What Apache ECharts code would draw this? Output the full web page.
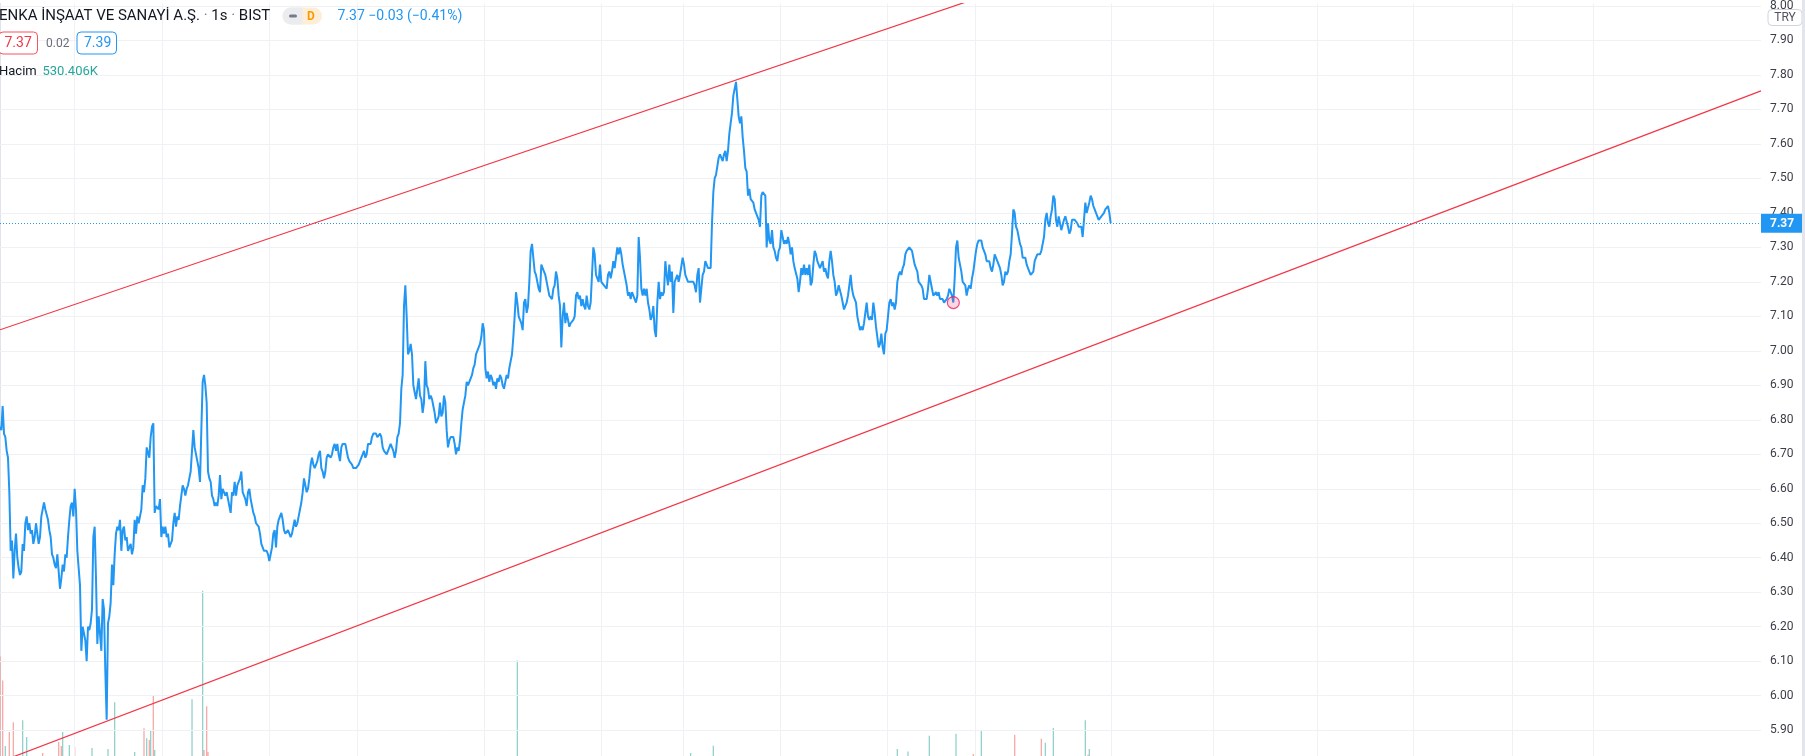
<!DOCTYPE html>
<html><head><meta charset="utf-8">
<script src="https://cdn.jsdelivr.net/npm/echarts@6/dist/echarts.min.js"></script>
<style>html,body{margin:0;padding:0;background:#fff;overflow:hidden}#c{width:1805px;height:756px}</style>
</head><body><div id="c"></div>
<script>
// ---- data (price per bar) ----
const price = [
6.78,6.77,6.84,6.76,6.75,6.71,6.69,6.59,6.42,6.45,
6.34,6.42,6.47,6.40,6.37,6.35,6.36,6.44,6.42,6.50,
6.52,6.48,6.50,6.47,6.48,6.44,6.46,6.50,6.47,6.44,
6.46,6.52,6.52,6.56,6.54,6.54,6.51,6.48,6.46,6.41,
6.40,6.38,6.37,6.41,6.36,6.31,6.34,6.38,6.36,6.41,
6.40,6.46,6.51,6.55,6.56,6.52,6.60,6.54,6.42,6.37,
6.32,6.13,6.20,6.20,6.16,6.10,6.20,6.19,6.21,6.25,
6.46,6.49,6.34,6.15,6.23,6.23,6.13,6.28,6.25,6.07,
5.93,6.21,6.23,6.27,6.38,6.32,6.41,6.47,6.49,6.48,
6.51,6.42,6.48,6.49,6.45,6.46,6.42,6.42,6.44,6.41,
6.43,6.51,6.47,6.52,6.50,6.52,6.54,6.61,6.59,6.63,
6.72,6.72,6.69,6.75,6.78,6.79,6.53,6.55,6.55,6.54,
6.57,6.46,6.49,6.47,6.49,6.46,6.47,6.43,6.43,6.45,
6.50,6.53,6.49,6.52,6.51,6.55,6.58,6.61,6.60,6.58,
6.60,6.61,6.63,6.65,6.71,6.77,6.72,6.72,6.68,6.66,
6.62,6.77,6.91,6.93,6.90,6.85,6.65,6.63,6.62,6.58,
6.57,6.55,6.56,6.55,6.58,6.64,6.57,6.60,6.60,6.58,
6.59,6.57,6.57,6.53,6.59,6.58,6.62,6.58,6.61,6.62,
6.63,
6.65,6.59,6.58,6.57,6.55,6.59,6.60,6.57,6.55,6.53,
6.52,6.50,6.50,6.49,6.47,6.44,6.43,6.42,6.42,6.42,
6.41,6.39,6.41,6.43,6.47,6.48,6.43,6.49,6.51,6.51,
6.53,6.51,6.48,6.47,6.47,6.48,6.47,6.46,6.47,6.49,
6.51,6.49,6.50,6.52,6.54,6.56,6.59,6.63,6.63,6.59,
6.60,6.63,6.67,6.69,6.67,6.66,6.66,6.68,6.70,6.71,
6.66,6.65,6.63,6.65,6.69,6.70,6.70,6.69,6.70,6.72,
6.73,6.71,6.73,6.70,6.68,6.72,6.73,6.73,6.73,6.71,
6.69,6.68,6.68,6.67,6.66,6.66,6.66,6.66,6.67,6.67,
6.69,6.70,6.71,6.69,6.70,6.73,6.73,6.73,6.75,6.76,
6.76,6.76,6.75,6.75,6.76,6.75,6.72,6.71,6.71,6.70,
6.70,6.72,6.73,6.73,6.71,6.69,6.71,6.75,6.76,6.79,
6.89,6.93,7.13,7.19,7.10,6.99,7.00,7.02,6.99,6.90,
6.88,6.86,6.89,6.92,6.87,6.86,6.82,6.85,6.97,6.90,
6.89,6.86,6.87,6.86,6.84,6.82,6.79,6.80,6.81,6.85,
6.81,6.82,6.87,6.85,6.77,6.72,6.74,6.75,6.75,6.75,
6.73,6.70,6.72,6.71,6.74,6.79,6.83,6.85,6.87,6.91,
6.90,6.91,6.92,6.93,6.95,6.96,6.99,7.00,7.01,7.02,
7.04,7.08,7.06,6.95,6.92,6.94,6.91,6.93,6.92,6.90,
6.91,6.89,6.92,6.91,6.93,6.92,6.90,6.89,6.91,6.93,
6.92,6.95,6.97,6.99,7.04,7.10,7.17,7.14,7.10,7.09,
7.08,7.06,7.14,7.15,7.11,7.13,7.20,7.29,7.31,7.27,
7.23,7.22,7.20,7.18,7.17,7.25,7.25,7.23,7.22,7.20,
7.20,7.16,7.16,7.15,7.18,7.19,7.23,7.21,7.16,7.13,
7.01,7.10,7.14,7.08,7.11,7.09,7.07,7.08,7.08,7.09,
7.10,7.16,7.17,7.15,7.16,7.13,7.15,7.13,7.12,7.16,
7.13,7.12,7.14,7.22,7.30,7.28,7.22,7.21,7.20,7.25,
7.20,7.20,7.19,7.19,7.18,7.22,7.23,7.21,7.23,7.26,
7.24,7.27,7.30,7.28,7.30,7.28,7.25,7.23,7.21,7.19,
7.16,7.17,7.15,7.17,7.16,7.16,7.14,7.16,7.33,7.27,
7.18,7.16,7.18,7.16,7.18,7.14,7.12,7.09,7.10,7.13,
7.06,7.04,7.14,7.20,7.15,7.17,7.16,7.17,7.26,7.22,
7.19,7.25,7.20,7.23,7.11,7.20,7.21,7.22,7.20,7.22,
7.22,7.27,7.25,7.22,7.21,7.20,7.20,7.20,7.20,7.20,
7.19,7.17,7.22,7.24,7.14,7.18,7.22,7.23,7.26,7.25,
7.24,7.24,7.24,7.37,7.46,7.50,7.51,7.51,7.56,7.57,
7.57,7.55,7.57,7.58,7.55,7.58,7.63,
7.66,7.69,7.74,7.74,7.78,7.73,7.68,7.66,7.68,7.62,7.58,7.53,7.52,
7.45,7.47,7.44,7.44,7.43,7.41,7.41,7.39,7.38,7.36,
7.45,7.46,7.46,7.45,7.30,7.37,7.32,7.31,7.35,7.30,
7.29,7.27,7.26,7.29,7.30,7.35,7.33,7.31,7.32,7.31,
7.33,7.31,7.28,7.30,7.26,7.24,7.24,7.21,7.17,7.20,
7.24,7.22,7.25,7.22,7.24,7.22,7.25,7.19,7.20,7.25,
7.29,7.28,7.26,7.26,7.24,7.25,7.26,7.23,7.24,7.22,
7.21,7.26,7.29,7.26,7.22,7.20,7.16,7.17,7.19,7.19,
7.16,7.14,7.12,7.13,7.14,7.16,7.19,7.22,7.18,7.16,
7.16,7.14,7.10,7.08,7.06,7.07,7.06,7.08,7.11,7.14,
7.10,7.09,7.10,7.09,7.14,7.11,7.07,7.04,7.01,7.02,
7.05,7.01,6.99,7.05,7.06,7.10,7.14,7.15,7.13,7.14,
7.12,7.14,7.20,7.22,7.23,7.22,7.24,7.25,7.28,7.29,
7.29,7.30,7.30,7.29,7.27,7.25,7.25,7.23,7.20,7.20,
7.19,7.18,7.15,7.15,7.15,7.18,7.22,7.22,7.18,7.16,
7.16,7.17,7.16,7.17,7.15,7.15,7.15,7.14,7.14,7.15,
7.16,7.18,
7.18,7.16,7.14,7.21,7.30,7.32,7.27,7.25,
7.23,7.20,7.20,7.19,7.16,7.18,7.19,7.18,7.21,7.23,
7.26,7.29,7.31,7.32,7.32,7.32,7.30,7.29,7.28,7.26,
7.26,7.26,7.24,7.23,7.25,7.28,7.28,7.26,7.25,7.24,
7.22,7.19,7.20,7.23,7.22,7.23,7.26,7.28,7.34,7.41,
7.40,7.36,7.35,7.33,7.31,7.30,7.27,7.27,7.27,7.25,
7.24,7.23,7.22,7.22,7.23,7.26,7.27,7.28,7.28,7.28,
7.29,7.29,7.33,7.38,7.40,7.37,7.36,7.39,7.41,7.45,
7.44,7.38,7.36,7.39,7.39,7.35,7.35,7.38,7.39,7.39,
7.36,7.34,7.35,7.38,7.38,7.38,7.38,7.37,7.36,7.36,
7.36,7.33,7.38,7.43,7.40,7.40,7.43,7.45,7.44,7.42,
7.41,7.40,7.39,7.38,7.38,7.39,7.39,7.40,7.41,7.41,
7.42,7.40,7.37
];
// volume (millions), sparse: bar index, value, up(1)/down(0)
const volIndex = [0,2,4,7,10,17,20,32,44,46,47,52,56,69,81,86,101,108,110,112,113,115,116,144,152,153,155,156,388,518,535,673,681,697,717,730,736,761,781,784,790,814,816,817];
const volValue = [7.93,6.03,0.79,1.91,2.70,2.85,1.51,0.24,1.11,0.79,1.91,0.87,0.72,0.63,0.56,4.29,0.31,2.22,1.42,1.27,2.05,4.85,0.47,4.53,13.17,0.47,3.97,0.31,7.62,0.24,0.82,0.56,0.35,1.61,1.77,0.16,2.01,1.70,1.37,1.05,2.24,2.85,0.10,0.56];
const volUp = [0,0,1,0,0,1,1,0,0,0,1,1,0,1,1,1,1,0,1,0,1,0,1,1,1,0,0,0,1,1,1,1,1,1,1,0,1,0,0,1,1,1,0,1];
// price-scale tick labels
const yTicks = [5.90,6.00,6.10,6.20,6.30,6.40,6.50,6.60,6.70,6.80,6.90,7.00,7.10,7.20,7.30,7.40,7.50,7.60,7.70,7.80,7.90,8.00];
// time grid positions (bar index)
const timeGrid = [55.5,121.7,202,268,363.2,451.3,512.5,585.5,665.5,731.5,833.5,910,987.75,1059.75,1134,1194.75];
// trend lines drawn on the chart: [bar index, price]
const upperTrend = [[0,7.061],[1320.75,8.794]];
const lowerTrend = [[0,5.808],[1320.75,7.754]];
const markerPoint = [715, 7.14];
const lastPrice = 7.37;
const xMax = 1320.75;
const yMin = 5.825, yMax = 8.007;   // visible price range
const volMax = 60;

const FONT = 'Roboto, "Noto Sans", sans-serif';
const chart = echarts.init(document.getElementById('c'), null, {renderer:'canvas', width:1805, height:756});
const UP = 'rgba(38,166,154,0.5)', DOWN = 'rgba(239,83,80,0.5)';
const RED = '#f23645', BLUE = '#2196f3', GRID = '#f0f1f4';

chart.setOption({
  animation:false,
  backgroundColor:'#ffffff',
  textStyle:{fontFamily:FONT},
  grid:{left:0, right:44, top:0, bottom:0, containLabel:false},
  xAxis:{type:'value', min:0, max:xMax, axisLine:{show:false}, axisTick:{show:false}, axisLabel:{show:false}, splitLine:{show:false}},
  yAxis:[{
    type:'value', position:'right', min:yMin, max:yMax,
    axisLine:{show:true, lineStyle:{color:'#e0e3eb', width:1}},
    axisTick:{show:true, length:5, customValues:yTicks, lineStyle:{color:'#b2b5be'}},
    axisLabel:{customValues:yTicks, formatter:v=>v.toFixed(2), color:'#3b3e47', fontSize:12, margin:9, fontFamily:FONT},
    splitLine:{show:false}
  },{
    type:'value', min:0, max:volMax, show:false
  }],
  series:[
    {type:'line', data:[], silent:true, z:0,
     markLine:{silent:true, symbol:'none', label:{show:false}, animation:false,
       lineStyle:{color:GRID, width:1, type:'solid'},
       data: timeGrid.map(x=>({xAxis:x})).concat(yTicks.map(v=>({yAxis:v})))}},
    {type:'bar', yAxisIndex:1, barWidth:1.3, silent:true, z:1,
     data: volIndex.map((i,k)=>({value:[i, volValue[k]], itemStyle:{color: volUp[k]?UP:DOWN}}))},
    {type:'line', data: price.map((v,i)=>[i,v]), showSymbol:false, silent:true, z:5,
     lineStyle:{color:BLUE, width:2}, itemStyle:{color:BLUE},
     markLine:{silent:true, symbol:'none', label:{show:false}, animation:false,
       lineStyle:{color:BLUE, width:1, type:[1,2]}, data:[{yAxis:lastPrice}]}},
    {type:'line', data:upperTrend, showSymbol:false, silent:true, z:6, lineStyle:{color:RED, width:1.2}},
    {type:'line', data:lowerTrend, showSymbol:false, silent:true, z:6, lineStyle:{color:RED, width:1.2}},
    {type:'scatter', data:[markerPoint], symbolSize:12, silent:true, z:7,
     itemStyle:{color:'rgba(242,54,105,0.25)', borderColor:'#e91e63', borderWidth:1.2}}
  ]
});

const py = chart.convertToPixel({yAxisIndex:0}, lastPrice);
const axisX = chart.convertToPixel({xAxisIndex:0}, xMax);
const T = (x,y,text,style)=>({type:'text', x, y, z:100, style:Object.assign({text, fontFamily:FONT, fontSize:13, fill:'#131722', verticalAlign:'middle'}, style||{})});
chart.setOption({graphic:[
  // header line 1
  {type:'text', x:-1, y:16, z:100, style:{text:'{a|ENKA İNŞAAT VE SANAYİ A.Ş.}{s| · }{a|1s}{s| · }{a|BIST}', verticalAlign:'middle',
    rich:{a:{fontFamily:FONT, fontSize:15, fill:'#131722'}, s:{fontFamily:FONT, fontSize:15, fill:'#787b86'}}}},
  {type:'rect', z:100, shape:{x:282.5, y:7.5, width:39.5, height:17, r:8.5}, style:{fill:'#fdeed8'}},
  {type:'rect', z:100, shape:{x:282.5, y:7.5, width:20, height:17, r:[8.5,0,0,8.5]}, style:{fill:'#ebecef'}},
  {type:'rect', z:101, shape:{x:289, y:14.5, width:8, height:3, r:1.5}, style:{fill:'#787b86'}},
  T(307, 16.5, 'D', {fill:'#ff9800', fontWeight:'bold', fontSize:12}),
  T(337.5, 16, '7.37 −0.03 (−0.41%)', {fill:BLUE, fontSize:14}),
  // header line 2
  {type:'rect', z:100, shape:{x:-1, y:32, width:38.5, height:22, r:4}, style:{fill:'#fff', stroke:'#f7525f', lineWidth:1}},
  T(4.5, 43.5, '7.37', {fill:RED, fontSize:14}),
  T(46, 43.5, '0.02', {fill:'#6a6d78', fontSize:12}),
  {type:'rect', z:100, shape:{x:77, y:32, width:39.5, height:22, r:4}, style:{fill:'#fff', stroke:BLUE, lineWidth:1}},
  T(84, 43.5, '7.39', {fill:BLUE, fontSize:14}),
  // header line 3
  T(-1, 71.5, 'Hacim', {fill:'#131722', fontSize:13}),
  T(42.5, 71.5, '530.406K', {fill:'#26a69a', fontSize:13}),
  // right scale decorations
  {type:'rect', z:100, shape:{x:1768, y:9.5, width:34, height:16, r:4}, style:{fill:'#fff', stroke:'#d1d4dc', lineWidth:1}},
  T(1785, 17.5, 'TRY', {fill:'#50535e', fontSize:12, align:'center'}),
  {type:'rect', z:100, shape:{x:axisX, y:py-9.5, width:41, height:19}, style:{fill:BLUE}},
  T(1770, py+0.5, '7.37', {fill:'#fff', fontSize:12, fontWeight:'bold'}),
  {type:'rect', z:100, shape:{x:1802, y:0, width:3, height:756}, style:{fill:'#e3e5ec'}}
]});
</script></body></html>
